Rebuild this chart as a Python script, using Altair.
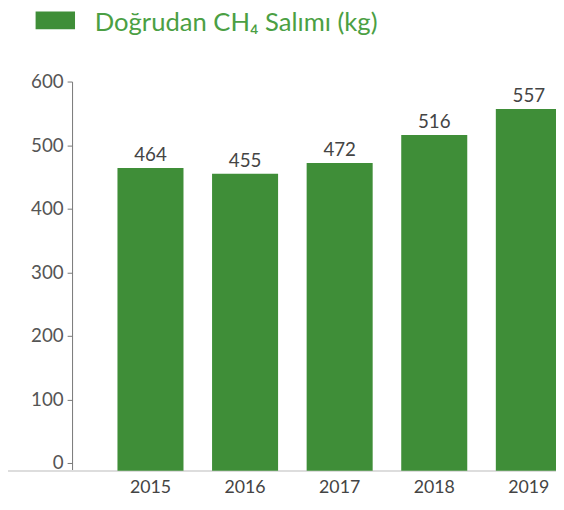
import altair as alt
import pandas as pd

years = ["2015", "2016", "2017", "2018", "2019"]
values = [464, 455, 472, 516, 557]
legend_label = "Doğrudan CH₄ Salımı (kg)"
y_ticks = [0, 100, 200, 300, 400, 500, 600]

BAR = "#3f8e38"
TXT_GREEN = "#4b9f44"
FONT = "Lato"
Y_MIN = -12.4

df = pd.DataFrame({"year": years, "value": values, "base": [Y_MIN] * len(years)})

x = alt.X("year:N", sort=years, title=None,
          scale=alt.Scale(range=[0, 543], paddingInner=0.302, paddingOuter=0.48),
          axis=alt.Axis(domain=False, ticks=False, labelAngle=0, labelFontSize=18,
                        labelColor="#444444", labelFont=FONT, labelPadding=8))
y = alt.Y("value:Q", title=None,
          scale=alt.Scale(domain=[Y_MIN, 600], nice=False, zero=False),
          axis=alt.Axis(values=y_ticks, grid=False, domainColor="#777777", tickColor="#777777",
                        tickSize=5, labelFontSize=19, labelColor="#555555", labelFont=FONT,
                        labelPadding=4))

base = alt.Chart(df)

baseline = base.mark_rule(color="#dddddd", strokeWidth=2).encode(
    x=alt.value(-68), x2=alt.value(491), y=alt.datum(Y_MIN, type="quantitative")
)

bars = base.mark_bar(color=BAR).encode(x=x, y=y, y2="base:Q")

labels = base.mark_text(baseline="bottom", dy=-3, fontSize=19, color="#444444", font=FONT).encode(
    x=x, y=y, text="value:Q"
)

leg_df = pd.DataFrame({"label": [legend_label]})
leg_rect = alt.Chart(leg_df).mark_rect(color=BAR).encode(
    x=alt.value(-37), x2=alt.value(3), y=alt.value(-71), y2=alt.value(-53)
)
leg_text = alt.Chart(leg_df).mark_text(align="left", baseline="alphabetic", fontSize=26,
                                       color=TXT_GREEN, font=FONT).encode(
    x=alt.value(23), y=alt.value(-51), text="label:N"
)

chart = alt.layer(baseline, bars, labels, leg_rect, leg_text).properties(
    width=491, height=395,
    autosize=alt.AutoSizeParams(type="none"),
    padding={"left": 65, "top": 71, "right": 0, "bottom": 30},
).configure_view(stroke=None)

chart.save("out.html", embed_options={"renderer": "svg", "actions": False})
